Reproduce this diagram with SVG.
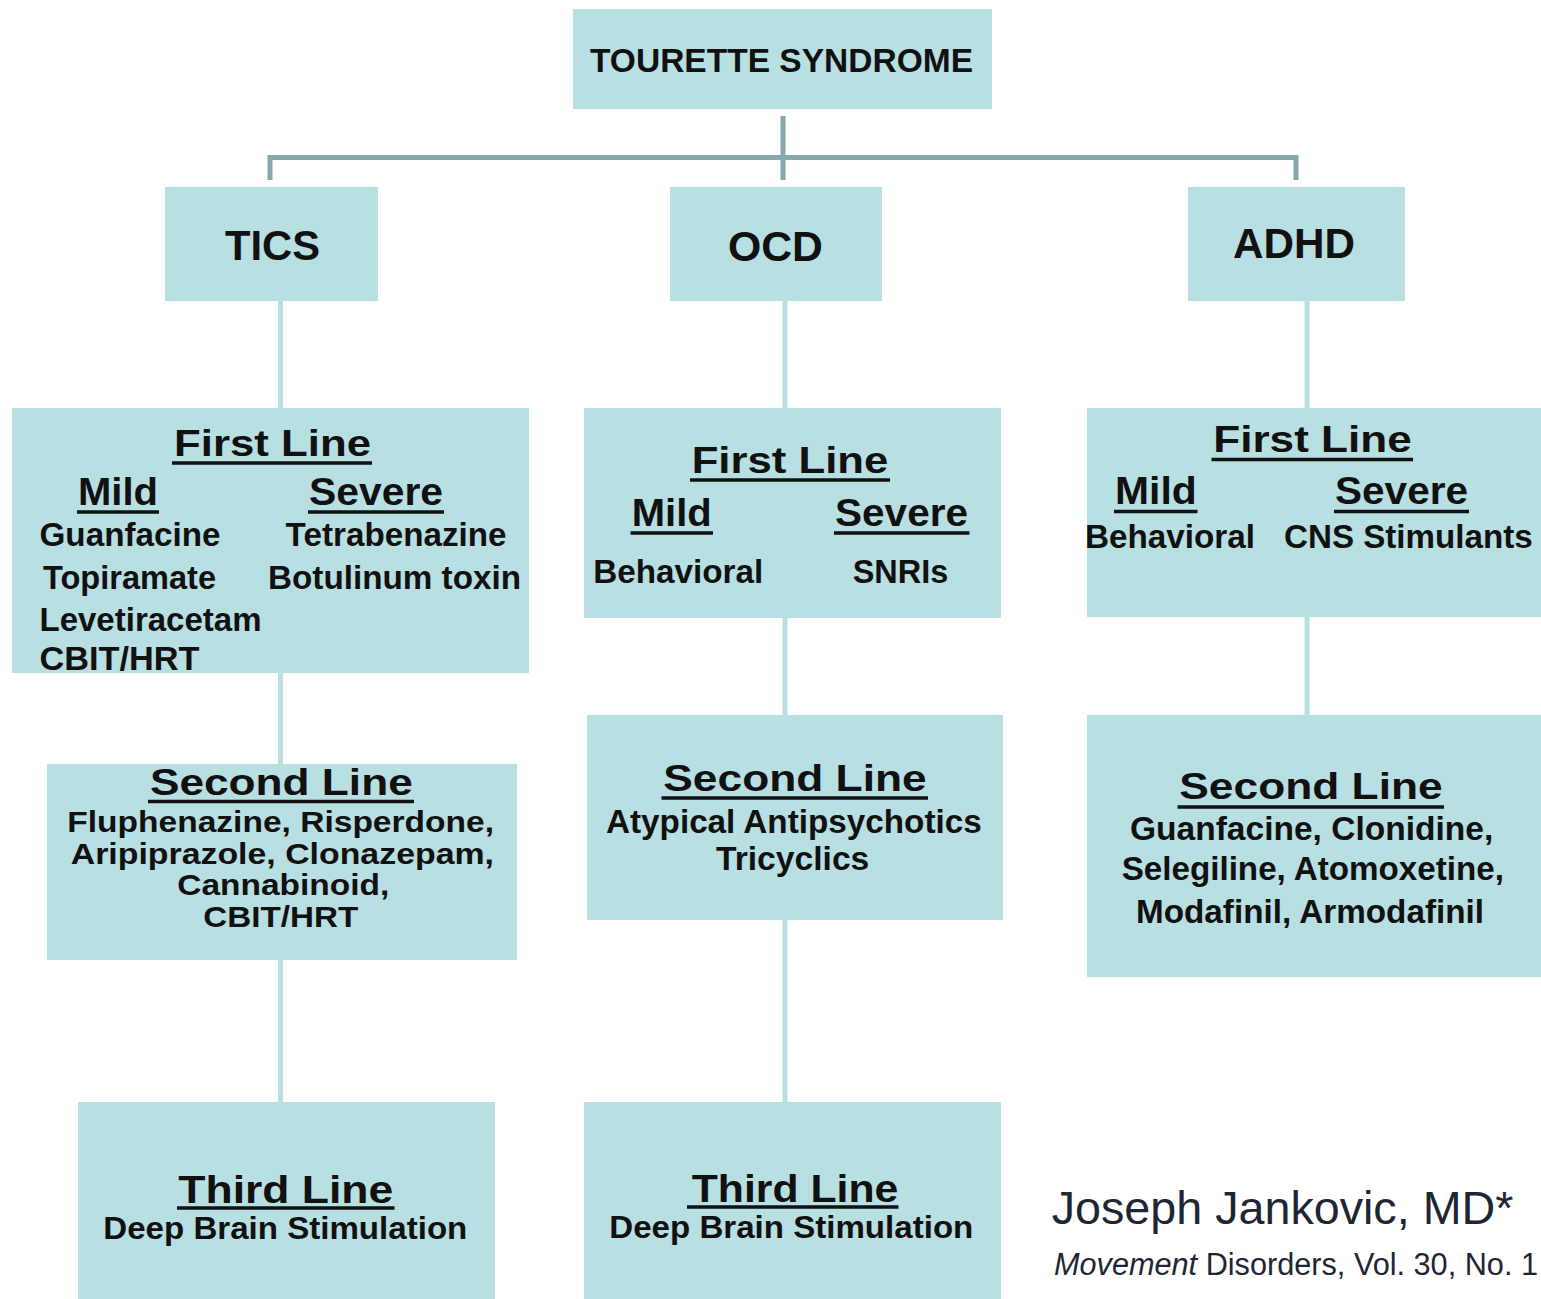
<svg xmlns="http://www.w3.org/2000/svg" width="1541" height="1299" viewBox="0 0 1541 1299">
<style>
.box{fill:#b8dfe2}
.t{font-family:"Liberation Sans",Arial,sans-serif;font-weight:bold;fill:#111}
.ul{stroke:#111;stroke-width:3.5}
.dk{stroke:#86a8ac;stroke-width:5;fill:none}
.lt{stroke:#b8dfe2;stroke-width:5;fill:none}
.cite{font-family:"Liberation Sans",Arial,sans-serif;fill:#1f2633}
</style>
<rect width="1541" height="1299" fill="#ffffff"/>
<g id="connectors">
<path class="dk" d="M783,116 V180 M270,180 V157.5 H1296 V180"/>
<path class="lt" d="M280.5,301 V408 M280.5,673 V764 M280.5,960 V1102"/>
<path class="lt" d="M785,301 V408 M785,618 V715 M785,920 V1102"/>
<path class="lt" d="M1307,301 V408 M1307,617 V715"/>
</g>
<g id="tourette">
<rect class="box" x="573" y="9" width="419" height="100"/>
<text class="t" x="590" y="72" font-size="34" textLength="383" lengthAdjust="spacingAndGlyphs">TOURETTE SYNDROME</text>
</g>
<g id="tics">
<rect class="box" x="165" y="187" width="213" height="114"/>
<text class="t" x="225" y="260" font-size="42" textLength="95" lengthAdjust="spacingAndGlyphs">TICS</text>
</g>
<g id="ocd">
<rect class="box" x="670" y="187" width="212" height="114"/>
<text class="t" x="728" y="261" font-size="42" textLength="95" lengthAdjust="spacingAndGlyphs">OCD</text>
</g>
<g id="adhd">
<rect class="box" x="1188" y="187" width="217" height="114"/>
<text class="t" x="1233" y="258" font-size="42" textLength="122" lengthAdjust="spacingAndGlyphs">ADHD</text>
</g>
<g id="tics-first">
<rect class="box" x="12" y="408" width="517" height="265"/>
<text class="t" x="174" y="456" font-size="37" textLength="197" lengthAdjust="spacingAndGlyphs">First Line</text>
<line class="ul" x1="172" y1="463" x2="372" y2="463"/>
<text class="t" x="78" y="505" font-size="38" textLength="80" lengthAdjust="spacingAndGlyphs">Mild</text>
<line class="ul" x1="77" y1="512" x2="159" y2="512"/>
<text class="t" x="309" y="505" font-size="38" textLength="134" lengthAdjust="spacingAndGlyphs">Severe</text>
<line class="ul" x1="308" y1="512" x2="444" y2="512"/>
<text class="t" x="39.5" y="546" font-size="33" textLength="181" lengthAdjust="spacingAndGlyphs">Guanfacine</text>
<text class="t" x="285.6" y="546" font-size="33" textLength="221" lengthAdjust="spacingAndGlyphs">Tetrabenazine</text>
<text class="t" x="43" y="589" font-size="33" textLength="173" lengthAdjust="spacingAndGlyphs">Topiramate</text>
<text class="t" x="268" y="589" font-size="33" textLength="253" lengthAdjust="spacingAndGlyphs">Botulinum toxin</text>
<text class="t" x="39.5" y="631" font-size="33" textLength="222" lengthAdjust="spacingAndGlyphs">Levetiracetam</text>
<text class="t" x="39.5" y="670" font-size="33" textLength="160" lengthAdjust="spacingAndGlyphs">CBIT/HRT</text>
</g>
<g id="ocd-first">
<rect class="box" x="584" y="408" width="417" height="210"/>
<text class="t" x="691.7" y="473" font-size="37" textLength="196.6" lengthAdjust="spacingAndGlyphs">First Line</text>
<line class="ul" x1="690" y1="480" x2="890" y2="480"/>
<text class="t" x="631.7" y="526" font-size="38" textLength="80" lengthAdjust="spacingAndGlyphs">Mild</text>
<line class="ul" x1="630.5" y1="533" x2="713" y2="533"/>
<text class="t" x="835" y="526" font-size="38" textLength="133" lengthAdjust="spacingAndGlyphs">Severe</text>
<line class="ul" x1="834" y1="533" x2="969.5" y2="533"/>
<text class="t" x="593.3" y="583" font-size="33" textLength="170" lengthAdjust="spacingAndGlyphs">Behavioral</text>
<text class="t" x="852.7" y="583" font-size="33" textLength="95.6" lengthAdjust="spacingAndGlyphs">SNRIs</text>
</g>
<g id="adhd-first">
<rect class="box" x="1087" y="408" width="454" height="209"/>
<text class="t" x="1213.3" y="452" font-size="37" textLength="198.4" lengthAdjust="spacingAndGlyphs">First Line</text>
<line class="ul" x1="1211.5" y1="459.5" x2="1413" y2="459.5"/>
<text class="t" x="1115" y="504" font-size="38" textLength="81.7" lengthAdjust="spacingAndGlyphs">Mild</text>
<line class="ul" x1="1114" y1="511.5" x2="1197.5" y2="511.5"/>
<text class="t" x="1335" y="504" font-size="38" textLength="133" lengthAdjust="spacingAndGlyphs">Severe</text>
<line class="ul" x1="1334" y1="511.5" x2="1469" y2="511.5"/>
<text class="t" x="1085" y="548" font-size="33" textLength="170" lengthAdjust="spacingAndGlyphs">Behavioral</text>
<text class="t" x="1284" y="548" font-size="33" textLength="248.7" lengthAdjust="spacingAndGlyphs">CNS Stimulants</text>
</g>
<g id="tics-second">
<rect class="box" x="47" y="764" width="470" height="196"/>
<text class="t" x="150" y="795" font-size="36" textLength="262.7" lengthAdjust="spacingAndGlyphs">Second Line</text>
<line class="ul" x1="148" y1="801.5" x2="414" y2="801.5"/>
<text class="t" x="67.3" y="832" font-size="29.5" textLength="426.7" lengthAdjust="spacingAndGlyphs">Fluphenazine, Risperdone,</text>
<text class="t" x="70.7" y="864" font-size="29.5" textLength="423.3" lengthAdjust="spacingAndGlyphs">Aripiprazole, Clonazepam,</text>
<text class="t" x="177.3" y="895" font-size="29.5" textLength="212" lengthAdjust="spacingAndGlyphs">Cannabinoid,</text>
<text class="t" x="203.3" y="927" font-size="29.5" textLength="155" lengthAdjust="spacingAndGlyphs">CBIT/HRT</text>
</g>
<g id="ocd-second">
<rect class="box" x="587" y="715" width="416" height="205"/>
<text class="t" x="663.3" y="791" font-size="36" textLength="263.4" lengthAdjust="spacingAndGlyphs">Second Line</text>
<line class="ul" x1="661.5" y1="798" x2="928" y2="798"/>
<text class="t" x="606" y="833" font-size="33" textLength="375.7" lengthAdjust="spacingAndGlyphs">Atypical Antipsychotics</text>
<text class="t" x="716" y="870" font-size="33" textLength="153.3" lengthAdjust="spacingAndGlyphs">Tricyclics</text>
</g>
<g id="adhd-second">
<rect class="box" x="1087" y="715" width="454" height="262"/>
<text class="t" x="1179.3" y="799" font-size="36" textLength="263.4" lengthAdjust="spacingAndGlyphs">Second Line</text>
<line class="ul" x1="1177.5" y1="807" x2="1444" y2="807"/>
<text class="t" x="1130" y="840" font-size="33" textLength="363.3" lengthAdjust="spacingAndGlyphs">Guanfacine, Clonidine,</text>
<text class="t" x="1121.7" y="880" font-size="33" textLength="382.3" lengthAdjust="spacingAndGlyphs">Selegiline, Atomoxetine,</text>
<text class="t" x="1136" y="923" font-size="33" textLength="348" lengthAdjust="spacingAndGlyphs">Modafinil, Armodafinil</text>
</g>
<g id="tics-third">
<rect class="box" x="78" y="1102" width="417" height="197"/>
<text class="t" x="178.3" y="1203" font-size="39" textLength="215" lengthAdjust="spacingAndGlyphs">Third Line</text>
<line class="ul" x1="177" y1="1208" x2="394.5" y2="1208"/>
<text class="t" x="103.3" y="1239" font-size="32" textLength="364" lengthAdjust="spacingAndGlyphs">Deep Brain  Stimulation</text>
</g>
<g id="ocd-third">
<rect class="box" x="584" y="1102" width="417" height="197"/>
<text class="t" x="691.7" y="1202" font-size="39" textLength="206.6" lengthAdjust="spacingAndGlyphs">Third Line</text>
<line class="ul" x1="687" y1="1207" x2="898.5" y2="1207"/>
<text class="t" x="609.3" y="1238" font-size="32" textLength="364" lengthAdjust="spacingAndGlyphs">Deep Brain  Stimulation</text>
</g>
<g id="citation">
<text class="cite" x="1051.7" y="1224" font-size="47" textLength="461.7" lengthAdjust="spacingAndGlyphs">Joseph Jankovic, MD*</text>
<text class="cite" x="1054" y="1275" font-size="31" textLength="484" lengthAdjust="spacingAndGlyphs"><tspan font-style="italic">Movement</tspan> Disorders, Vol. 30, No. 1</text>
</g>
</svg>
